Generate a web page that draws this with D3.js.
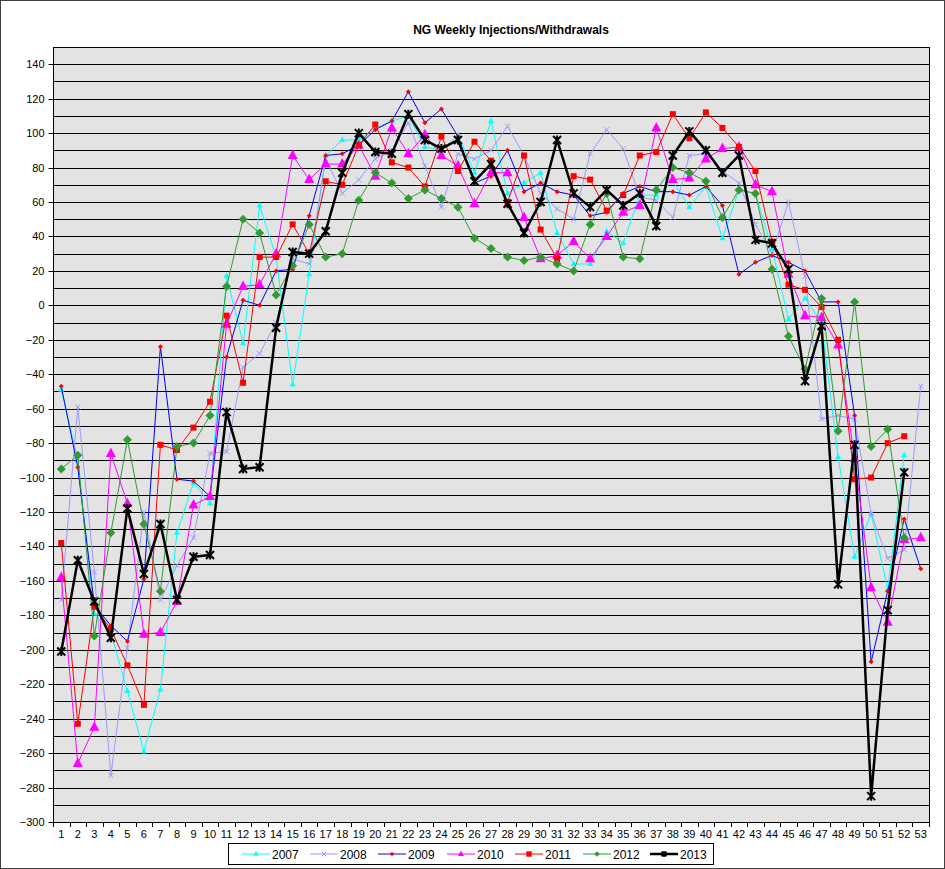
<!DOCTYPE html>
<html>
<head>
<meta charset="utf-8">
<script src="https://cdn.jsdelivr.net/npm/d3@7/dist/d3.min.js"></script>
<style>
  html, body { margin: 0; padding: 0; background: #fff; }
  svg { display: block; font-family: "Liberation Sans", Arial, sans-serif; }
</style>
</head>
<body>
<svg id="chart" width="945" height="869"></svg>
<script>
// ---- data ----
const weeks = [1,2,3,4,5,6,7,8,9,10,11,12,13,14,15,16,17,18,19,20,21,22,23,24,25,26,27,28,29,30,31,32,33,34,35,36,37,38,39,40,41,42,43,44,45,46,47,48,49,50,51,52,53];
const yTickLabels = [-300,-280,-260,-240,-220,-200,-180,-160,-140,-120,-100,-80,-60,-40,-20,0,20,40,60,80,100,120,140];
const seriesNames = ["2007","2008","2009","2010","2011","2012","2013"];

const v2007 = [-49,-90,-179,-190,-224,-259,-223,-132,-103,-115,17,-22,58,28,-46,18,87,96,96,103,107,110,92,90,99,77,107,65,71,77,42,24,24,43,36,64,64,72,57,69,39,67,65,33,-8,4,-10,-88,-146,-121,-165,-87,null];
const v2008 = [-171,-59,-155,-273,-199,-120,-171,-151,-135,-86,-85,-36,-28,-10,27,24,85,65,73,85,90,106,81,57,88,85,90,104,87,65,56,50,88,102,91,63,61,51,87,88,78,71,47,30,60,17,-66,-64,-66,-121,-147,-142,-47];
const v2009 = [-47,-94,-174,-186,-195,-159,-24,-101,-102,-111,-30,3,0,20,21,52,87,88,93,102,107,124,106,114,98,71,75,90,66,71,66,64,52,54,65,69,66,66,64,69,58,18,25,29,25,20,2,2,-64,-207,-166,-124,-153];
const v2010 = [-158,-266,-245,-86,-115,-191,-190,-172,-116,-111,-11,11,12,30,87,73,82,82,93,75,103,88,99,87,81,59,77,77,51,27,29,37,27,40,54,58,103,73,74,85,91,92,70,66,18,-6,-7,-23,-89,-164,-184,-136,-135];
const v2011 = [-138,-243,-175,-188,-209,-232,-81,-84,-71,-56,-6,-45,28,28,47,30,72,70,93,105,83,80,69,98,78,95,84,60,87,44,27,75,73,55,64,87,89,111,97,112,103,92,78,37,12,9,-1,-20,-101,-100,-80,-76,null];
const v2012 = [-95,-87,-192,-132,-78,-127,-166,-82,-80,-64,11,50,42,6,23,47,28,30,61,77,71,62,67,62,57,39,33,28,26,28,24,20,47,65,28,27,67,80,77,72,51,67,65,21,-18,-37,4,-73,2,-82,-72,-135,null];
const v2013 = [-201,-148,-172,-193,-118,-156,-127,-171,-146,-145,-62,-95,-94,-13,31,30,43,77,100,89,88,111,96,91,96,72,82,59,42,60,96,65,57,67,58,65,46,87,101,90,77,87,38,36,21,-44,-12,-162,-81,-285,-177,-97,null];

const seriesValues = [v2007, v2008, v2009, v2010, v2011, v2012, v2013];

// ---- styles ----
const styles = {
  "2007": { line: "#00FFFF", fill: "#00FFFF", width: 1, marker: "triSmall" },
  "2008": { line: "#9999FF", fill: "#9999FF", width: 1, marker: "x" },
  "2009": { line: "#0000FF", fill: "#FF0000", width: 1, marker: "dot" },
  "2010": { line: "#FF00FF", fill: "#FF00FF", width: 1, marker: "triBig" },
  "2011": { line: "#FF0000", fill: "#FF0000", width: 1, marker: "square" },
  "2012": { line: "#339933", fill: "#339933", width: 1, marker: "diamond" },
  "2013": { line: "#000000", fill: "#000000", width: 2.5, marker: "star" }
};

const W = 945, H = 869;
const plot = { left: 53, right: 929, top: 47, bottom: 822 };

const svg = d3.select("#chart");

// outer border
svg.append("rect").attr("x", 0.5).attr("y", 0.5).attr("width", W - 1).attr("height", H - 1)
  .attr("fill", "#fff").attr("stroke", "#404040").attr("stroke-width", 1);

const x = d3.scaleBand().domain(weeks).range([plot.left, plot.right]).paddingInner(0).paddingOuter(0);
const cx = w => x(w) + x.bandwidth() / 2;
const y = d3.scaleLinear().domain([-300, 150]).range([plot.bottom, plot.top]);

// plot background
svg.append("rect").attr("x", plot.left).attr("y", plot.top)
  .attr("width", plot.right - plot.left).attr("height", plot.bottom - plot.top)
  .attr("fill", "#E3E3E3");

// gridlines every 10
const gridVals = d3.range(-290, 151, 10);
svg.append("g").selectAll("line").data(gridVals).join("line")
  .attr("x1", plot.left).attr("x2", plot.right)
  .attr("y1", d => Math.round(y(d)) + 0.5).attr("y2", d => Math.round(y(d)) + 0.5)
  .attr("stroke", "#000").attr("stroke-width", 1);

// plot border right
svg.append("line").attr("x1", plot.right + 0.5).attr("x2", plot.right + 0.5)
  .attr("y1", plot.top).attr("y2", plot.bottom).attr("stroke", "#000");

// y axis
const yAxis = d3.axisLeft(y).tickValues(yTickLabels).tickSize(5).tickPadding(4).tickFormat(d3.format("d"));
const gy = svg.append("g").attr("transform", `translate(${plot.left + 0.5},0)`).call(yAxis);
gy.select(".domain").attr("d", `M0,${plot.top}V${plot.bottom}`).attr("stroke", "#000");
gy.selectAll(".tick line").attr("stroke", "#000");
gy.selectAll(".tick text").attr("font-size", 11).attr("fill", "#000")
  .attr("font-family", "'Liberation Sans', Arial, sans-serif");
gy.selectAll(".tick").attr("transform", d => `translate(0,${Math.round(y(d)) + 0.5})`);

// x axis
const xAxis = d3.axisBottom(x).tickSize(0).tickPadding(8);
const gx = svg.append("g").attr("transform", `translate(0,${plot.bottom + 0.5})`).call(xAxis);
gx.select(".domain").attr("d", `M${plot.left},0H${plot.right + 1}`).attr("stroke", "#000");
gx.selectAll(".tick text").attr("font-size", 11).attr("fill", "#000")
  .attr("font-family", "'Liberation Sans', Arial, sans-serif");
// tick marks between categories
const boundaries = weeks.map(w => x(w)).concat([plot.right]);
svg.append("g").selectAll("line").data(boundaries).join("line")
  .attr("x1", d => Math.round(d) + 0.5).attr("x2", d => Math.round(d) + 0.5)
  .attr("y1", plot.bottom).attr("y2", plot.bottom + 5)
  .attr("stroke", "#000");

// title
svg.append("text").attr("x", 511).attr("y", 34).attr("text-anchor", "middle")
  .attr("font-size", 12).attr("font-weight", "bold").attr("fill", "#000")
  .text("NG Weekly Injections/Withdrawals");

// marker drawer
function drawMarker(g, type, st, px, py, scale) {
  const s = scale || 1;
  switch (type) {
    case "triSmall":
      g.append("path").attr("d", `M${px},${py - 3.5*s}L${px + 3*s},${py + 2*s}L${px - 3*s},${py + 2*s}Z`)
        .attr("fill", st.fill);
      break;
    case "triBig":
      g.append("path").attr("d", `M${px},${py - 6*s}L${px + 5*s},${py + 3.5*s}L${px - 5*s},${py + 3.5*s}Z`)
        .attr("fill", st.fill);
      break;
    case "x":
      g.append("path").attr("d", `M${px - 2.5*s},${py - 2.5*s}L${px + 2.5*s},${py + 2.5*s}M${px - 2.5*s},${py + 2.5*s}L${px + 2.5*s},${py - 2.5*s}`)
        .attr("stroke", st.fill).attr("stroke-width", 1).attr("fill", "none");
      break;
    case "dot":
      g.append("path").attr("d", `M${px},${py - 2.5*s}L${px + 2.5*s},${py}L${px},${py + 2.5*s}L${px - 2.5*s},${py}Z`)
        .attr("fill", st.fill);
      break;
    case "square":
      g.append("rect").attr("x", px - 3*s).attr("y", py - 3*s).attr("width", 6*s).attr("height", 6*s)
        .attr("fill", st.fill);
      break;
    case "diamond":
      g.append("path").attr("d", `M${px},${py - 4.5*s}L${px + 4.5*s},${py}L${px},${py + 4.5*s}L${px - 4.5*s},${py}Z`)
        .attr("fill", st.fill);
      break;
    case "star":
      g.append("path").attr("d", `M${px - 4*s},${py - 4*s}L${px + 4*s},${py + 4*s}M${px - 4*s},${py + 4*s}L${px + 4*s},${py - 4*s}M${px},${py - 4.5*s}L${px},${py + 4.5*s}`)
        .attr("stroke", st.fill).attr("stroke-width", 2).attr("fill", "none");
      break;
  }
}

// series
const lineGen = d3.line().defined(d => d.v !== null).x(d => cx(d.w)).y(d => y(d.v));
seriesNames.forEach((name, i) => {
  const st = styles[name];
  const pts = weeks.map((w, j) => ({ w, v: seriesValues[i][j] }));
  const g = svg.append("g").attr("class", "series s" + name);
  g.append("path").datum(pts).attr("d", lineGen)
    .attr("fill", "none").attr("stroke", st.line).attr("stroke-width", st.width)
    .attr("stroke-linejoin", "miter");
  pts.filter(d => d.v !== null).forEach(d => drawMarker(g, st.marker, st, cx(d.w), y(d.v)));
});

// legend
const legend = svg.append("g");
legend.append("rect").attr("x", 228.5).attr("y", 843.5).attr("width", 485).attr("height", 21)
  .attr("fill", "#fff").attr("stroke", "#000").attr("stroke-width", 1);
const legendX = [242, 310, 378, 447, 515, 583, 650];
seriesNames.forEach((name, i) => {
  const st = styles[name];
  const lx = legendX[i];
  const ly = 854;
  legend.append("line").attr("x1", lx).attr("x2", lx + 28).attr("y1", ly).attr("y2", ly)
    .attr("stroke", st.line).attr("stroke-width", st.width === 1 ? 1 : 2.5);
  drawMarker(legend, st.marker, st, lx + 14, ly, st.marker === "star" ? 0.6 : (st.marker === "triBig" || st.marker === "diamond" ? 0.6 : 0.9));
  legend.append("text").attr("x", lx + 30).attr("y", ly + 4.5).attr("font-size", 12).attr("fill", "#000")
    .text(name);
});
</script>
</body>
</html>
